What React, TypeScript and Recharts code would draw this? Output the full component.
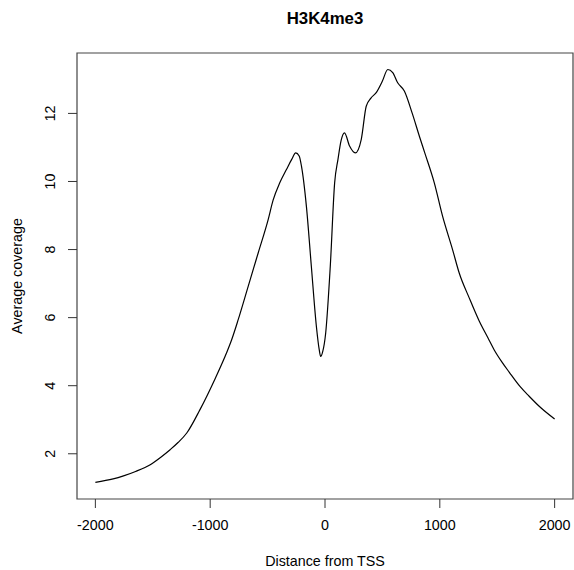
import React from 'react';
import { LineChart, Line, XAxis, YAxis, ReferenceArea } from 'recharts';

const distance = [
    -2000, -1845, -1755, -1650, -1522, -1430, -1349, -1280, -1204, -1090, -958, -858, -813, -756, -669, -582,
    -495, -452, -394, -336, -290, -255, -225, -205, -162, -119, -75, -50, -38, -20, 6, 46, 84, 113, 140, 170, 214,
    264, 316, 359, 400, 446, 500, 547, 590, 633, 691, 760, 822, 869, 952, 1024, 1111, 1169, 1256, 1343, 1420,
    1474, 1540, 1604, 1700, 1778, 1880, 2000,
];
const coverage = [
    1.16, 1.26, 1.35, 1.48, 1.68, 1.9, 2.12, 2.33, 2.61, 3.29, 4.2, 4.96, 5.35, 5.94, 6.92, 7.9,
    8.88, 9.45, 9.96, 10.35, 10.65, 10.84, 10.75, 10.45, 9.27, 7.51, 5.74, 5.05, 4.86, 5.0, 5.55, 7.51, 9.96, 10.65, 11.2, 11.43, 11.04,
    10.84, 11.24, 12.21, 12.45, 12.61, 12.95, 13.29, 13.2, 12.9, 12.66, 12.0, 11.33, 10.84, 9.96, 8.98, 8.0, 7.31, 6.58, 5.9, 5.4,
    5.05, 4.7, 4.4, 3.97, 3.69, 3.35, 3.02,
];
const xTicks = [-2000, -1000, 0, 1000, 2000];
const yTicks = [2, 4, 6, 8, 10, 12];

const data = distance.map((d, i) => ({ distance: d, coverage: coverage[i] }));

const FONT = 'Arial, "Liberation Sans", Helvetica, sans-serif';

const XTick = ({ x, payload }: { x?: number; y?: number; payload?: { value: number } }) => (
    <text x={x} y={530} textAnchor="middle" fontSize={14.3} fontFamily={FONT} fill="#000">
        {payload?.value}
    </text>
);

const YTick = ({ y, payload }: { x?: number; y?: number; payload?: { value: number } }) => (
    <text
        x={55}
        y={y}
        transform={`rotate(-90, 55, ${y})`}
        textAnchor="middle"
        fontSize={14.3}
        fontFamily={FONT}
        fill="#000"
    >
        {payload?.value}
    </text>
);

export default function App() {
    return (
        <div style={{ position: 'absolute', left: 0, top: 0, width: 574, height: 570, background: '#fff' }}>
            <LineChart width={574} height={570} data={data} margin={{ top: 53, right: 1, bottom: 0, left: 0 }}>
                <XAxis
                    dataKey="distance"
                    type="number"
                    domain={[-2160, 2160]}
                    ticks={xTicks}
                    height={71}
                    axisLine={false}
                    tickSize={9}
                    tickLine={{ stroke: '#333' }}
                    tick={<XTick />}
                    allowDataOverflow
                />
                <YAxis
                    type="number"
                    domain={[0.671, 13.775]}
                    ticks={yTicks}
                    width={77}
                    axisLine={false}
                    tickSize={9}
                    tickLine={{ stroke: '#333' }}
                    tick={<YTick />}
                    allowDataOverflow
                />
                <ReferenceArea x1={-2160} x2={2160} y1={0.671} y2={13.775} fill="none" stroke="#444" strokeWidth={1.2} />
                <Line
                    type="monotone"
                    dataKey="coverage"
                    stroke="#000"
                    strokeWidth={1.2}
                    dot={false}
                    isAnimationActive={false}
                />
            </LineChart>
            <svg width={574} height={570} style={{ position: 'absolute', left: 0, top: 0, pointerEvents: 'none' }}>
                <text x={325} y={24} textAnchor="middle" fontSize={16.8} fontWeight="bold" fontFamily={FONT} fill="#000">
                    H3K4me3
                </text>
                <text x={325} y={566} textAnchor="middle" fontSize={14.3} fontFamily={FONT} fill="#000">
                    Distance from TSS
                </text>
                <text
                    x={21.7}
                    y={276}
                    transform="rotate(-90, 21.7, 276)"
                    textAnchor="middle"
                    fontSize={14.3}
                    fontFamily={FONT}
                    fill="#000"
                >
                    Average coverage
                </text>
            </svg>
        </div>
    );
}
